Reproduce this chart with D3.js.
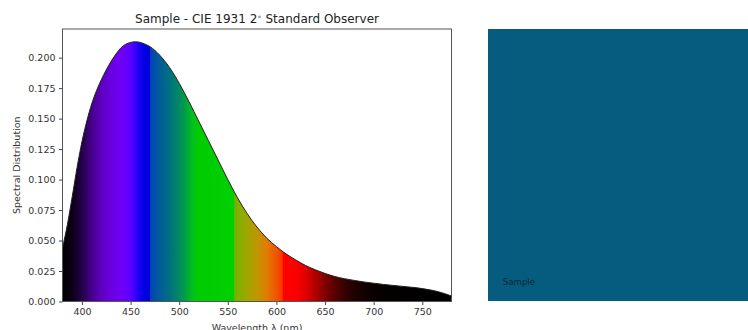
<!DOCTYPE html>
<html>
<head>
<meta charset="utf-8">
<script src="https://cdn.jsdelivr.net/npm/d3@7"></script>
<style>
  body { margin: 0; background: #fff; }
  svg { display: block; font-family: "DejaVu Sans", sans-serif; }
</style>
</head>
<body>
<svg id="chart" width="748" height="330"></svg>
<script>
// spectral distribution of the sample (nm -> value)
const wavelengths = [380, 385, 390, 395, 400, 405, 410, 415, 420, 425, 430, 435, 440, 445, 450, 455, 460, 465, 470, 480, 490, 500, 510, 520, 530, 540, 550, 560, 570, 580, 590, 600, 610, 620, 630, 640, 650, 660, 670, 680, 690, 700, 710, 720, 730, 740, 750, 760, 770, 780];
const values = [0.044, 0.063, 0.086, 0.110, 0.131, 0.148, 0.162, 0.173, 0.182, 0.190, 0.197, 0.203, 0.208, 0.211, 0.2125, 0.213, 0.2125, 0.211, 0.209, 0.202, 0.192, 0.179, 0.164, 0.148, 0.132, 0.116, 0.100, 0.085, 0.072, 0.061, 0.052, 0.045, 0.039, 0.034, 0.0295, 0.026, 0.023, 0.0205, 0.0187, 0.0173, 0.016, 0.015, 0.014, 0.0132, 0.0124, 0.0116, 0.0106, 0.0092, 0.0072, 0.0045];
const xTicks = [400, 450, 500, 550, 600, 650, 700, 750];
const yTicks = [0, 0.025, 0.05, 0.075, 0.1, 0.125, 0.15, 0.175, 0.2];

// approximate visible spectrum colours used for the fill
const spectrumNm = [380, 390, 400, 410, 420, 430, 440, 450, 455, 460, 465, 470, 470, 475, 480, 490, 500, 505, 510, 515, 520, 556, 557, 560, 570, 580, 590, 600, 606, 607, 620, 630, 640, 650, 660, 670, 680, 690, 700, 720, 780];
const spectrumRgb = ['#000000', '#0c0018', '#240048', '#45008a', '#5e00c0', '#6a00e0', '#7000f4', '#5c00ff', '#3400ff', '#1400f0', '#0000e0', '#0000d4', '#0040b4', '#0050a8', '#005c98', '#007080', '#008a62', '#009a4c', '#00b030', '#00c418', '#00cc00', '#00d000', '#6cb400', '#80b000', '#a0a600', '#c09600', '#e07c00', '#f05400', '#fa3400', '#ff0000', '#fb0000', '#e00000', '#b00000', '#800000', '#580000', '#380000', '#200000', '#130000', '#0a0000', '#020000', '#000000'];

const sampleName = 'Sample';
const sampleColour = '#065c7e';

const svg = d3.select('#chart');
const plot = { left: 62.5, right: 451.5, top: 29, bottom: 301.5 };

const x = d3.scaleLinear().domain([380, 780]).range([plot.left, plot.right]);
const y = d3.scaleLinear().domain([0, 0.2235]).range([plot.bottom, plot.top]);

const data = wavelengths.map((w, i) => ({ w, v: values[i] }));

const defs = svg.append('defs');
const grad = defs.append('linearGradient')
  .attr('id', 'spectrum')
  .attr('gradientUnits', 'userSpaceOnUse')
  .attr('x1', x(380)).attr('x2', x(780))
  .attr('y1', 0).attr('y2', 0);
grad.selectAll('stop')
  .data(spectrumNm)
  .enter()
  .append('stop')
  .attr('offset', d => (d - 380) / 400)
  .attr('stop-color', (d, i) => spectrumRgb[i]);

defs.append('clipPath').attr('id', 'clip')
  .append('rect')
  .attr('x', plot.left).attr('y', plot.top)
  .attr('width', plot.right - plot.left).attr('height', plot.bottom - plot.top);

const area = d3.area()
  .x(d => x(d.w))
  .y0(y(0))
  .y1(d => y(d.v))
  .curve(d3.curveMonotoneX);

const line = d3.line()
  .x(d => x(d.w))
  .y(d => y(d.v))
  .curve(d3.curveMonotoneX);

const g = svg.append('g').attr('clip-path', 'url(#clip)');
g.append('path')
  .datum(data)
  .attr('fill', 'url(#spectrum)')
  .attr('d', area);
g.append('path')
  .datum(data)
  .attr('fill', 'none')
  .attr('stroke', '#222')
  .attr('stroke-width', 1)
  .attr('d', line);

// axes
const xAxis = svg.append('g')
  .attr('transform', `translate(0,${plot.bottom})`)
  .call(d3.axisBottom(x).tickValues(xTicks).tickSize(3.5).tickPadding(3.5).tickFormat(d3.format('d')));
const yAxis = svg.append('g')
  .attr('transform', `translate(${plot.left},0)`)
  .call(d3.axisLeft(y).tickValues(yTicks).tickSize(3.5).tickPadding(3.5).tickFormat(d3.format('.3f')));

[xAxis, yAxis].forEach(a => {
  a.select('.domain').remove();
  a.selectAll('line').attr('stroke', '#444');
  a.selectAll('text').attr('fill', '#333').style('font-size', '9.5px').style('font-family', '"DejaVu Sans", sans-serif');
});

svg.append('rect')
  .attr('x', plot.left).attr('y', plot.top)
  .attr('width', plot.right - plot.left).attr('height', plot.bottom - plot.top)
  .attr('fill', 'none')
  .attr('stroke', '#555')
  .attr('stroke-width', 1);

// title and labels
const title = svg.append('text')
  .attr('x', (plot.left + plot.right) / 2)
  .attr('y', 23)
  .attr('text-anchor', 'middle')
  .attr('fill', '#222')
  .style('font-size', '12px');
title.append('tspan').text('Sample - CIE 1931 2');
title.append('tspan').attr('dy', -4).style('font-size', '7px').text('\u2218');
title.append('tspan').attr('dy', 4).text(' Standard Observer');

svg.append('text')
  .attr('x', (plot.left + plot.right) / 2)
  .attr('y', 331)
  .attr('text-anchor', 'middle')
  .attr('fill', '#333')
  .style('font-size', '9.5px')
  .text('Wavelength \u03bb (nm)');

svg.append('text')
  .attr('transform', `translate(20,${(plot.top + plot.bottom) / 2}) rotate(-90)`)
  .attr('text-anchor', 'middle')
  .attr('fill', '#333')
  .style('font-size', '9.5px')
  .text('Spectral Distribution');

// colour swatch
svg.append('rect')
  .attr('x', 488).attr('y', 29)
  .attr('width', 270).attr('height', 272)
  .attr('fill', sampleColour);

svg.append('text')
  .attr('x', 503).attr('y', 285)
  .attr('fill', '#0b2535')
  .style('font-size', '8.5px')
  .text(sampleName);
</script>
</body>
</html>
